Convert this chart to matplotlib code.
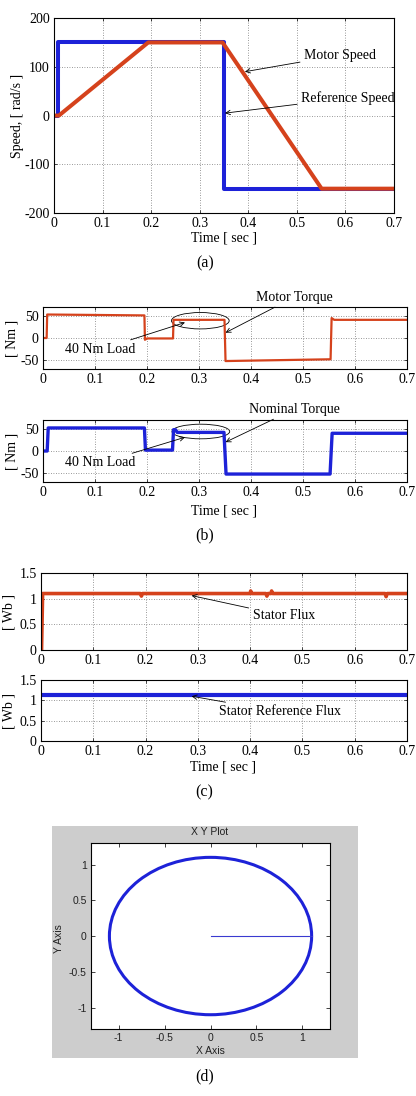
import matplotlib
matplotlib.use("Agg")
import matplotlib.pyplot as plt
from matplotlib.patches import Ellipse
from matplotlib.ticker import StrMethodFormatter

# ---- data ----
# (a) speed
ref_speed_t = [0, 0.009, 0.009, 0.35, 0.35, 0.7]
ref_speed = [0, 0, 150, 150, -150, -150]
motor_speed_t = [0, 0.01, 0.194, 0.347, 0.551, 0.7]
motor_speed = [0, 0, 150, 150, -150, -150]

# (b) torque
motor_torque_t = [0, 0.007, 0.008, 0.195, 0.196, 0.2, 0.25, 0.251, 0.349, 0.351, 0.553, 0.555, 0.56, 0.7]
motor_torque = [0, 0, 53, 51, -4, -1, -1, 41, 41, -52, -48, 45, 41, 41]
nominal_torque_t = [0, 0.008, 0.01, 0.195, 0.197, 0.249, 0.251, 0.255, 0.258, 0.348, 0.352, 0.552, 0.556, 0.7]
nominal_torque = [0, 0, 52, 52, 2, 2, 48, 48, 42, 42, -52, -52, 40, 40]

# (c) flux
stator_flux_t = [0, 0.001, 0.003, 0.19, 0.192, 0.194, 0.4, 0.401, 0.403,
                 0.43, 0.432, 0.434, 0.44, 0.441, 0.443, 0.658, 0.66, 0.662, 0.7]
stator_flux = [0, 0, 1.1, 1.1, 1.05, 1.1, 1.1, 1.15, 1.1,
               1.1, 1.05, 1.1, 1.1, 1.15, 1.1, 1.1, 1.04, 1.1, 1.1]
ref_flux_t = [0, 0.7]
ref_flux = [1.13, 1.13]

# (d) xy plot of flux locus
flux_radius = 1.1
flux_center = (0.0, 0.0)
spoke_x = [0, 1.1]
spoke_y = [0, 0]

time_ticks = [0, 0.1, 0.2, 0.3, 0.4, 0.5, 0.6, 0.7]

BLUE = "#1d22d8"
RED = "#d5421c"
SERIF = "Liberation Serif"
SANS = "Liberation Sans"

plt.rcParams["font.family"] = SERIF
plt.rcParams["axes.unicode_minus"] = False

fig = plt.figure(figsize=(4.16, 10.96), dpi=100)


def style(ax, yticks, ylim):
    ax.set_xlim(0, 0.7)
    ax.set_ylim(*ylim)
    ax.set_xticks(time_ticks)
    ax.set_yticks(yticks)
    ax.xaxis.set_major_formatter(StrMethodFormatter("{x:g}"))
    ax.yaxis.set_major_formatter(StrMethodFormatter("{x:g}"))
    ax.grid(True, linestyle=(0, (1, 2)), color="#777777", linewidth=0.6)
    ax.tick_params(direction="in", top=True, right=True, length=2.5,
                   labelsize=10, pad=3, width=0.5)
    for s in ax.spines.values():
        s.set_linewidth(0.8)


def note(ax, text, xy, xytext, ha="left"):
    ax.annotate(text, xy=xy, xytext=xytext, fontsize=10, ha=ha, va="center",
                annotation_clip=False,
                arrowprops=dict(arrowstyle="->", color="k", lw=0.6,
                                shrinkA=1, shrinkB=0, mutation_scale=8))


# ---- (a) ----
ax = fig.add_axes([0.1298, 0.8056, 0.8173, 0.1779])
ax.plot(ref_speed_t, ref_speed, color=BLUE, lw=2.9)
ax.plot(motor_speed_t, motor_speed, color=RED, lw=2.9)
style(ax, [-200, -100, 0, 100, 200], (-200, 200))
note(ax, "Motor Speed", (0.393, 90), (0.515, 124))
note(ax, "Reference Speed", (0.352, 5), (0.509, 36))
fig.text(0.041, 0.894, "Speed, [ rad/s ]", rotation=90, ha="center", va="center", fontsize=10)
fig.text(0.538, 0.7831, "Time [ sec ]", ha="center", va="center", fontsize=10)
fig.text(0.492, 0.760, "(a)", ha="center", va="center", fontsize=11.5)

# ---- (b) ----
ax = fig.add_axes([0.1034, 0.6633, 0.875, 0.0566])
ax.plot(motor_torque_t, motor_torque, color=RED, lw=1.6)
style(ax, [-50, 0, 50], (-70, 70))
ax.add_patch(Ellipse((0.3025, 39), 0.111, 37, fill=False, lw=0.6, ec="k", clip_on=False))
note(ax, "Motor Torque", (0.351, 12), (0.483, 92), ha="center")
note(ax, "40 Nm Load", (0.273, 35), (0.11, -26), ha="center")
fig.text(0.029, 0.6916, "[ Nm ]", rotation=90, ha="center", va="center", fontsize=10)

ax = fig.add_axes([0.1034, 0.5602, 0.875, 0.0566])
ax.plot(nominal_torque_t, nominal_torque, color=BLUE, lw=2.4)
style(ax, [-50, 0, 50], (-70, 70))
ax.add_patch(Ellipse((0.3035, 44), 0.111, 33, fill=False, lw=0.6, ec="k", clip_on=False))
note(ax, "Nominal Torque", (0.351, 20), (0.483, 94), ha="center")
note(ax, "40 Nm Load", (0.273, 31), (0.11, -27), ha="center")
fig.text(0.029, 0.5885, "[ Nm ]", rotation=90, ha="center", va="center", fontsize=10)
fig.text(0.538, 0.534, "Time [ sec ]", ha="center", va="center", fontsize=10)
fig.text(0.492, 0.5119, "(b)", ha="center", va="center", fontsize=11.5)

# ---- (c) ----
ax = fig.add_axes([0.0986, 0.4069, 0.8798, 0.0703])
ax.plot(stator_flux_t, stator_flux, color=RED, lw=2.6)
style(ax, [0, 0.5, 1, 1.5], (0, 1.5))
note(ax, "Stator Flux", (0.288, 1.06), (0.405, 0.67))
fig.text(0.022, 0.442, "[ Wb ]", rotation=90, ha="center", va="center", fontsize=10)

ax = fig.add_axes([0.0986, 0.3239, 0.8798, 0.0557])
ax.plot(ref_flux_t, ref_flux, color=BLUE, lw=3.0)
style(ax, [0, 0.5, 1, 1.5], (0, 1.5))
note(ax, "Stator Reference Flux", (0.288, 1.1), (0.34, 0.72))
fig.text(0.022, 0.3517, "[ Wb ]", rotation=90, ha="center", va="center", fontsize=10)
fig.text(0.537, 0.3002, "Time [ sec ]", ha="center", va="center", fontsize=10)
fig.text(0.492, 0.2774, "(c)", ha="center", va="center", fontsize=11.5)

# ---- (d) ----
# gray figure window behind the XY plot
bg = fig.add_axes([0.125, 0.0347, 0.7356, 0.2117], zorder=-1)
bg.set_facecolor("#cdcdcd")
bg.set_xticks([])
bg.set_yticks([])
for s in bg.spines.values():
    s.set_visible(False)

ax = fig.add_axes([0.2188, 0.0611, 0.5745, 0.1697], zorder=1)
ax.set_facecolor("white")
ax.add_patch(Ellipse(flux_center, 2 * flux_radius, 2 * flux_radius, fill=False,
                     ec=BLUE, lw=2.2))
ax.plot(spoke_x, spoke_y, color="#3a3ad0", lw=0.8)
ax.set_xlim(-1.3, 1.3)
ax.set_ylim(-1.3, 1.3)
ax.set_xticks([-1, -0.5, 0, 0.5, 1])
ax.set_yticks([-1, -0.5, 0, 0.5, 1])
ax.xaxis.set_major_formatter(StrMethodFormatter("{x:g}"))
ax.yaxis.set_major_formatter(StrMethodFormatter("{x:g}"))
ax.tick_params(direction="in", top=True, right=True, length=3, width=0.6,
               labelsize=7.5, pad=3, colors="#222222")
for lab in ax.get_xticklabels() + ax.get_yticklabels():
    lab.set_family(SANS)
for s in ax.spines.values():
    s.set_linewidth(0.8)
fig.text(0.504, 0.2412, "X Y Plot", ha="center", va="center", fontsize=7.5, family=SANS, color="#222222")
fig.text(0.506, 0.0413, "X Axis", ha="center", va="center", fontsize=7.5, family=SANS, color="#222222")
fig.text(0.142, 0.1439, "Y Axis", rotation=90, ha="center", va="center", fontsize=7.5, family=SANS, color="#222222")
fig.text(0.492, 0.0182, "(d)", ha="center", va="center", fontsize=11.5)

fig.savefig("out.png", dpi=100)
